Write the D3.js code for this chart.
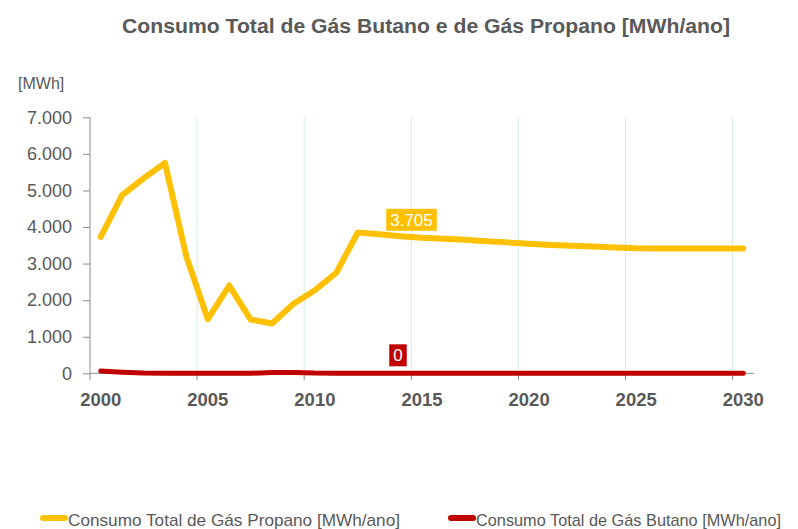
<!DOCTYPE html>
<html lang="pt">
<head>
<meta charset="UTF-8"/>
<title>Consumo Total de Gás Butano e de Gás Propano</title>
<script src="https://d3js.org/d3.v7.min.js"></script>
<style>
    body { margin: 0; background: #fff; }
    text { font-family: "Liberation Sans", Arial, sans-serif; fill: #595959; }
</style>
</head>
<body>
<script>
    var w = 798;
    var h = 529;

    var years = d3.range(2000, 2031);
    var propano = [3730, 4870, 5330, 5750, 3190, 1480, 2400, 1470, 1360, 1900,
                   2270, 2750, 3850, 3800, 3750, 3705, 3680, 3650, 3610, 3580,
                   3540, 3510, 3490, 3470, 3440, 3420, 3415, 3415, 3415, 3415, 3415];
    var butano = [60, 30, 5, 0, 0, 0, 0, 0, 20, 25,
                  5, 0, 0, 0, 0, 0, 0, 0, 0, 0,
                  0, 0, 0, 0, 0, 0, 0, 0, 0, 0, 0];
    var yTicks = [0, 1000, 2000, 3000, 4000, 5000, 6000, 7000];
    var xTickYears = [2000, 2005, 2010, 2015, 2020, 2025, 2030];
    var gridYears = [2005, 2010, 2015, 2020, 2025, 2030];
    var labelYear = 2015;

    var fmt = d3.formatLocale({decimal: ",", thousands: ".", grouping: [3], currency: ["", "€"]}).format(",");

    var x = d3.scaleBand().domain(years).range([90, 754]).padding(0);
    var y = d3.scaleLinear().domain([0, 7000]).range([373.3, 117.3]);

    var svg = d3.select("body").append("svg")
        .attr("width", w)
        .attr("height", h);

    // title
    svg.append("text")
        .attr("x", 122).attr("y", 33)
        .attr("textLength", 608).attr("lengthAdjust", "spacingAndGlyphs")
        .style("font-size", "19.5px").style("font-weight", "bold")
        .text("Consumo Total de Gás Butano e de Gás Propano [MWh/ano]");

    svg.append("text")
        .attr("x", 18).attr("y", 89)
        .style("font-size", "16px")
        .text("[MWh]");

    // vertical grid lines
    svg.selectAll(".grid")
        .data(gridYears)
        .enter().append("line")
        .attr("x1", function(d) { return x(d); })
        .attr("x2", function(d) { return x(d); })
        .attr("y1", y(7000)).attr("y2", y(0))
        .attr("stroke", "#d3ede7").attr("stroke-width", 1);

    // y axis
    var yAxis = svg.append("g")
        .attr("transform", "translate(90,0)")
        .call(d3.axisLeft(y).tickValues(yTicks).tickSize(7).tickPadding(11).tickFormat(fmt));
    yAxis.select(".domain").remove();
    yAxis.selectAll(".tick line").attr("stroke", "#8c8c8c");
    yAxis.selectAll("text").style("font-size", "18px").style("fill", "#595959");
    svg.append("line")
        .attr("x1", 90).attr("x2", 90)
        .attr("y1", y(7000)).attr("y2", y(0) + 7)
        .attr("stroke", "#8c8c8c");

    // x axis
    svg.append("line")
        .attr("x1", 90).attr("x2", 754)
        .attr("y1", y(0)).attr("y2", y(0))
        .attr("stroke", "#8c8c8c");
    svg.selectAll(".xtick")
        .data(gridYears)
        .enter().append("line")
        .attr("x1", function(d) { return x(d); })
        .attr("x2", function(d) { return x(d); })
        .attr("y1", y(0)).attr("y2", y(0) + 7)
        .attr("stroke", "#8c8c8c");
    svg.selectAll(".xlabel")
        .data(xTickYears)
        .enter().append("text")
        .attr("x", function(d) { return x(d) + x.bandwidth() / 2; })
        .attr("y", 406)
        .attr("text-anchor", "middle")
        .style("font-size", "18.5px").style("font-weight", "bold")
        .text(function(d) { return d; });

    var line = d3.line()
        .x(function(d, i) { return x(years[i]) + x.bandwidth() / 2; })
        .y(function(d) { return y(d); });

    svg.append("path")
        .datum(butano)
        .attr("d", line)
        .attr("fill", "none")
        .attr("stroke", "#c00000").attr("stroke-width", 5)
        .attr("stroke-linejoin", "round").attr("stroke-linecap", "round");

    svg.append("path")
        .datum(propano)
        .attr("d", line)
        .attr("fill", "none")
        .attr("stroke", "#ffc000").attr("stroke-width", 6)
        .attr("stroke-linejoin", "round").attr("stroke-linecap", "round");

    // data labels
    var li = years.indexOf(labelYear);
    var labels = [
        {value: propano[li], color: "#ffc000", dx: -10.5},
        {value: butano[li], color: "#c00000", dx: -24}
    ];
    labels.forEach(function(l) {
        var cx = x(labelYear) + x.bandwidth() / 2 + l.dx;
        var by = y(l.value) - 7;
        var g = svg.append("g");
        var t = g.append("text")
            .attr("x", cx).attr("y", by - 5)
            .attr("text-anchor", "middle")
            .style("font-size", "17px").style("fill", "#fff")
            .text(fmt(l.value));
        var bw = t.node().getComputedTextLength() + 8;
        g.insert("rect", "text")
            .attr("x", cx - bw / 2).attr("y", by - 22)
            .attr("width", bw).attr("height", 22)
            .attr("fill", l.color);
    });

    // legend
    var legend = [
        {name: "Consumo Total de Gás Propano [MWh/ano]", color: "#ffc000", x: 40, len: 332},
        {name: "Consumo Total de Gás Butano [MWh/ano]", color: "#c00000", x: 448, len: 305}
    ];
    var lg = svg.selectAll(".legend")
        .data(legend)
        .enter().append("g");
    lg.append("line")
        .attr("x1", function(d) { return d.x + 3; })
        .attr("x2", function(d) { return d.x + 25; })
        .attr("y1", 518).attr("y2", 518)
        .attr("stroke", function(d) { return d.color; })
        .attr("stroke-width", 6).attr("stroke-linecap", "round");
    lg.append("text")
        .attr("x", function(d) { return d.x + 28; })
        .attr("y", 526)
        .attr("textLength", function(d) { return d.len; })
        .attr("lengthAdjust", "spacingAndGlyphs")
        .style("font-size", "17px")
        .text(function(d) { return d.name; });
</script>
</body>
</html>
